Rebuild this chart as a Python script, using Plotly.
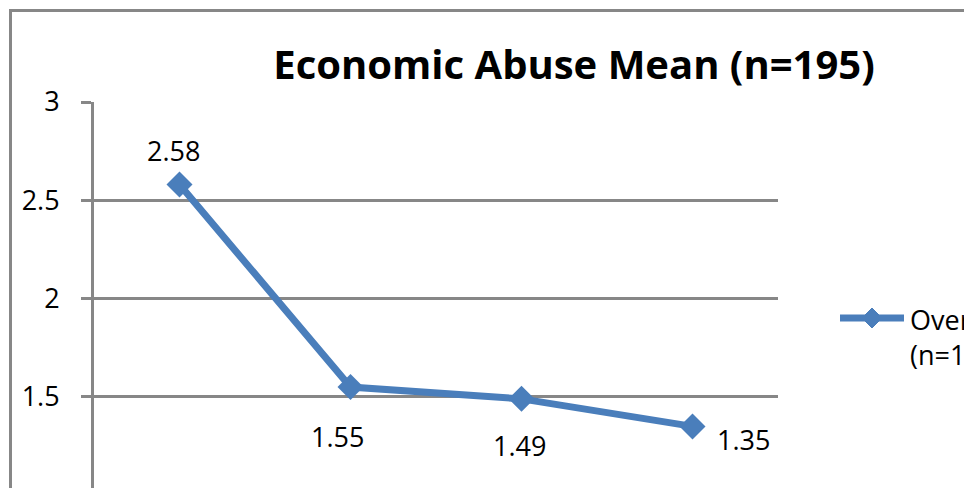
import plotly.graph_objects as go

# Data
positions = [0, 1, 2, 3]
means = [2.58, 1.55, 1.49, 1.35]
labels = ["2.58", "1.55", "1.49", "1.35"]
series_name = "Overall<br>(n=195)"
title_text = "Economic Abuse Mean (n=195)"
y_ticks = [1, 1.5, 2, 2.5, 3]

# Label placement styles (pixel offsets from each point)
label_style = [
    dict(xanchor="center", xshift=-6, yshift=34),
    dict(xanchor="center", xshift=-13, yshift=-49),
    dict(xanchor="center", xshift=-2, yshift=-47),
    dict(xanchor="left", xshift=22, yshift=-13),
]

W, H = 964, 488
L, R, T, B = 94, 186, 102, 0
plot_w = W - L - R
plot_h = H - T - B
px_per_unit = 196.6
y_min = 3 - plot_h / px_per_unit

def px_x(px):
    return (px - L) / plot_w

def px_y(py):
    return (H - B - py) / plot_h

FONT = "Open Sans"
GRAY = "#878787"
BLUE = "#4A7EBB"
FS = 27

fig = go.Figure()
fig.add_trace(go.Scatter(
    x=positions, y=means, mode="lines+markers",
    line=dict(color=BLUE, width=7),
    marker=dict(symbol="diamond", size=20, color=BLUE),
    cliponaxis=False, showlegend=False,
))

for xv, yv, txt, st in zip(positions, means, labels, label_style):
    fig.add_annotation(x=xv, y=yv, text=txt, showarrow=False, yanchor="middle",
                       font=dict(family=FONT, size=FS, color="black"), **st)

fig.update_layout(
    width=W, height=H,
    margin=dict(l=L, r=R, t=T, b=B),
    paper_bgcolor="white", plot_bgcolor="white",
    font=dict(family=FONT, color="black"),
    title=dict(text="<b>" + title_text + "</b>", font=dict(family=FONT, size=40, color="black"),
               xref="container", yref="container", x=574 / W, xanchor="center",
               y=1 - 65 / H, yanchor="middle"),
    xaxis=dict(range=[-0.5, 3.5], showgrid=False, showticklabels=False, ticks="",
               showline=False, zeroline=False, fixedrange=True),
    yaxis=dict(range=[y_min, 3], tickvals=y_ticks, ticktext=[str(v) for v in y_ticks],
               showgrid=True, gridcolor=GRAY, gridwidth=3,
               showline=True, linecolor=GRAY, linewidth=3,
               ticks="outside", ticklen=10, tickwidth=3, tickcolor=GRAY,
               ticklabelstandoff=16,
               tickfont=dict(family=FONT, size=FS, color="black"), zeroline=False),
)

# Outer chart-area border (extends past the visible window)
fig.add_shape(type="rect", xref="paper", yref="paper",
              x0=px_x(10.5), x1=px_x(1100), y0=px_y(10.5), y1=px_y(700),
              line=dict(color=GRAY, width=3), fillcolor="rgba(0,0,0,0)", layer="below")

# Partially visible "1" tick label at bottom
fig.add_annotation(xref="paper", yref="paper", x=px_x(62), y=px_y(498), text="1",
                   showarrow=False, xanchor="right", yanchor="middle",
                   font=dict(family=FONT, size=FS, color="black"))

# Custom legend
leg_y = px_y(318)
fig.add_shape(type="line", xref="paper", yref="paper", xsizemode="pixel", ysizemode="pixel",
              xanchor=px_x(872), yanchor=leg_y, x0=-32, x1=32, y0=0, y1=0,
              line=dict(color=BLUE, width=7))
fig.add_shape(type="path", xref="paper", yref="paper", xsizemode="pixel", ysizemode="pixel",
              xanchor=px_x(872), yanchor=leg_y, path="M-10,0 L0,10 L10,0 L0,-10 Z",
              fillcolor=BLUE, line=dict(color=BLUE, width=1))
fig.add_annotation(xref="paper", yref="paper", x=px_x(908), y=leg_y, text=series_name,
                   showarrow=False, xanchor="left", yanchor="top", yshift=19, align="left",
                   font=dict(family=FONT, size=FS, color="black"))

fig.write_html("out.html")
